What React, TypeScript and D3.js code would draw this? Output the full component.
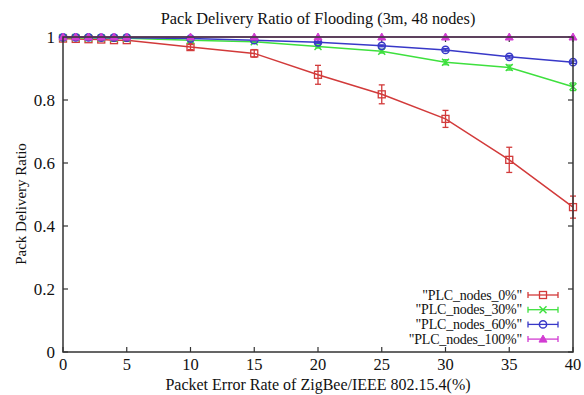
import React from "react";
import * as d3 from "d3";

const xValues = [0, 1, 2, 3, 4, 5, 10, 15, 20, 25, 30, 35, 40];
const plc0 = [0.995, 0.994, 0.993, 0.992, 0.99, 0.99, 0.968, 0.948, 0.88, 0.818, 0.74, 0.61, 0.46];
const plc0Err = [0.003, 0.003, 0.003, 0.004, 0.004, 0.004, 0.008, 0.012, 0.03, 0.03, 0.027, 0.04, 0.035];
const plc30 = [0.998, 0.998, 0.997, 0.997, 0.996, 0.996, 0.99, 0.985, 0.97, 0.955, 0.92, 0.903, 0.842];
const plc30Err = [0.002, 0.002, 0.002, 0.002, 0.002, 0.002, 0.003, 0.004, 0.005, 0.006, 0.008, 0.008, 0.012];
const plc60 = [0.999, 0.999, 0.999, 0.998, 0.998, 0.998, 0.995, 0.99, 0.983, 0.972, 0.959, 0.937, 0.92];
const plc60Err = [0.001, 0.001, 0.001, 0.001, 0.001, 0.001, 0.002, 0.002, 0.003, 0.003, 0.004, 0.004, 0.004];
const plc100 = [1, 1, 1, 1, 1, 1, 1, 1, 1, 1, 1, 1, 1];
const plc100Err = [0, 0, 0, 0, 0, 0, 0, 0, 0, 0, 0, 0, 0];
const seriesNames = ['"PLC_nodes_0%"', '"PLC_nodes_30%"', '"PLC_nodes_60%"', '"PLC_nodes_100%"'];
const seriesColors = ["#d23a3a", "#3ee03e", "#3838c8", "#d23cd2"];
const xTicks = [0, 5, 10, 15, 20, 25, 30, 35, 40];
const yTicks = [0, 0.2, 0.4, 0.6, 0.8, 1];

const W = 584, H = 395;
const L = 63, R = 573, T = 37, B = 352;
const FONT = "'Liberation Serif', 'DejaVu Serif', serif";

function Marker({ kind, x, y, color }: { kind: number; x: number; y: number; color: string }) {
  if (kind === 0) return <rect x={x - 3.5} y={y - 3.5} width={7} height={7} fill="none" stroke={color} strokeWidth={1.3} />;
  if (kind === 1)
    return (
      <g stroke={color} strokeWidth={1.5}>
        <line x1={x - 3.5} y1={y - 3.5} x2={x + 3.5} y2={y + 3.5} />
        <line x1={x - 3.5} y1={y + 3.5} x2={x + 3.5} y2={y - 3.5} />
      </g>
    );
  if (kind === 2) return <circle cx={x} cy={y} r={3.6} fill="none" stroke={color} strokeWidth={1.5} />;
  return <path d={`M${x},${y - 4}L${x + 4},${y + 3}L${x - 4},${y + 3}Z`} fill={color} stroke={color} strokeWidth={1} />;
}

export default function App() {
  const x = d3.scaleLinear().domain([0, 40]).range([L, R]);
  const y = d3.scaleLinear().domain([0, 1]).range([B, T]);
  const series = [
    { v: plc0, e: plc0Err },
    { v: plc30, e: plc30Err },
    { v: plc60, e: plc60Err },
    { v: plc100, e: plc100Err },
  ];
  const line = d3.line<[number, number]>().x((d) => x(d[0])).y((d) => y(d[1]));
  const axisColor = "#333";
  const tickLen = 5;
  const cap = 3;
  const legendY = [295, 309.7, 324.4, 339.1];

  return (
    <svg width={W} height={H} style={{ display: "block", position: "absolute", left: 0, top: 0, background: "#fff" }} fontFamily={FONT}>
      <rect x={0} y={0} width={W} height={H} fill="#fff" />
      <text x={318} y={24} textAnchor="middle" fontSize={16.3} fill="#111">Pack Delivery Ratio of Flooding (3m, 48 nodes)</text>
      {/* ticks */}
      <g stroke={axisColor} strokeWidth={1.2}>
        {xTicks.map((t) => (
          <g key={"xt" + t}>
            <line x1={x(t)} x2={x(t)} y1={B} y2={B - tickLen} />
            <line x1={x(t)} x2={x(t)} y1={T} y2={T + tickLen} />
          </g>
        ))}
        {yTicks.map((t) => (
          <g key={"yt" + t}>
            <line x1={L} x2={L + tickLen} y1={y(t)} y2={y(t)} />
            <line x1={R} x2={R - tickLen} y1={y(t)} y2={y(t)} />
          </g>
        ))}
      </g>
      {xTicks.map((t) => (
        <text key={"xl" + t} x={x(t)} y={370} textAnchor="middle" fontSize={16.5} fill="#111">{t}</text>
      ))}
      {yTicks.map((t) => (
        <text key={"yl" + t} x={55} y={y(t) + 6} textAnchor="end" fontSize={17} fill="#111">{d3.format("~g")(t)}</text>
      ))}
      <text x={318} y={390} textAnchor="middle" fontSize={16} fill="#111">Packet Error Rate of ZigBee/IEEE 802.15.4(%)</text>
      <text transform={`translate(26,204) rotate(-90)`} textAnchor="middle" fontSize={15} fill="#111">Pack Delivery Ratio</text>
      {/* data */}
      {series.map((s, i) => {
        const c = seriesColors[i];
        const pts = xValues.map((xv, j) => [xv, s.v[j]] as [number, number]);
        return (
          <g key={"s" + i}>
            <path d={line(pts) || ""} fill="none" stroke={c} strokeWidth={1.5} />
            {xValues.map((xv, j) => {
              const e = s.e[j];
              if (e <= 0) return null;
              const px = x(xv);
              const y1 = y(s.v[j] + e), y2 = y(s.v[j] - e);
              return (
                <g key={"e" + j} stroke={c} strokeWidth={1.3}>
                  <line x1={px} x2={px} y1={y1} y2={y2} />
                  <line x1={px - cap} x2={px + cap} y1={y1} y2={y1} />
                  <line x1={px - cap} x2={px + cap} y1={y2} y2={y2} />
                </g>
              );
            })}
            {xValues.map((xv, j) => (
              <Marker key={"m" + j} kind={i} x={x(xv)} y={y(s.v[j])} color={c} />
            ))}
          </g>
        );
      })}
      {/* border */}
      <rect x={L} y={T} width={R - L} height={B - T} fill="none" stroke={axisColor} strokeWidth={1.5} />
      {/* legend */}
      {seriesNames.map((n, i) => {
        const c = seriesColors[i];
        const ly = legendY[i];
        return (
          <g key={"lg" + i}>
            <text x={522} y={ly + 4.5} textAnchor="end" fontSize={14} letterSpacing={-0.2} fill="#111">{n}</text>
            <g stroke={c} strokeWidth={1.3}>
              <line x1={528} x2={558} y1={ly} y2={ly} />
              <line x1={528} x2={528} y1={ly - 3} y2={ly + 3} />
              <line x1={558} x2={558} y1={ly - 3} y2={ly + 3} />
            </g>
            <Marker kind={i} x={543} y={ly} color={c} />
          </g>
        );
      })}
    </svg>
  );
}
